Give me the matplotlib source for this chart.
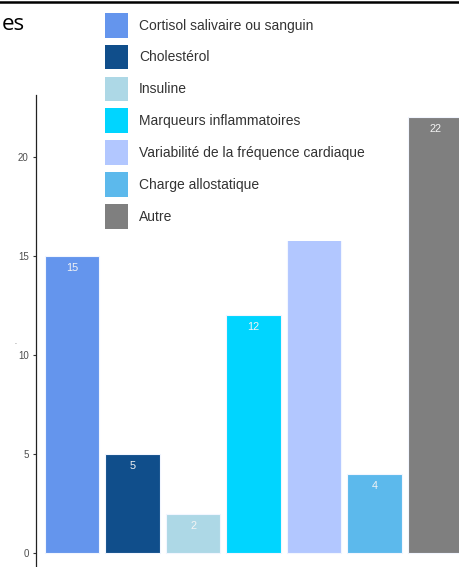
import matplotlib.pyplot as plt
from matplotlib.lines import Line2D
from matplotlib.patches import Patch

categories = ['Cortisol salivaire ou sanguin', 'Cholestérol', 'Insuline',
              'Marqueurs inflammatoires', 'Variabilité de la fréquence cardiaque',
              'Charge allostatique', 'Autre']
counts = [15, 5, 2, 12, 17, 4, 22]
colors = ['#6495ED', '#104E8B', '#ADD8E6', '#00D5FF', '#B2C7FF', '#5CB9EC', '#7F7F7F']
yticks = [0, 5, 10, 15, 20]


def main():
    plt.rcParams['font.family'] = ['Liberation Sans', 'DejaVu Sans']
    fig = plt.figure(figsize=(4.6, 5.67), dpi=100)
    ax = fig.add_axes([36 / 460, 0, 424 / 460, 472 / 567])

    x = list(range(len(categories)))
    bars = ax.bar(x, counts, width=0.9, color=colors, edgecolor='#F2F6FF', linewidth=0.8)
    for b, v in zip(bars, counts):
        ax.annotate(str(v), (b.get_x() + b.get_width() / 2, v), xytext=(0, -8.6),
                    textcoords='offset points', ha='center', va='center',
                    color='#F4F4F4', fontsize=7.8)

    ax.set_xlim(-0.595, 6.413)
    ax.set_ylim(-0.69, 23.1)
    ax.set_xticks([])
    ax.set_yticks(yticks)
    ax.tick_params(axis='y', length=2.2, width=0.8, color='#333333',
                   labelsize=7, labelcolor='#4D4D4D', pad=3)
    for s in ['top', 'right', 'bottom']:
        ax.spines[s].set_visible(False)
    ax.spines['left'].set_color('#222222')
    ax.spines['left'].set_linewidth(0.9)

    handles = [Patch(facecolor=c, edgecolor='none') for c in colors]
    fig.legend(handles, categories, loc='upper left',
               bbox_to_anchor=(93 / 460, 1 - 1 / 567), borderaxespad=0,
               fontsize=10, handlelength=1.65, handleheight=2.35,
               labelspacing=0.52, handletextpad=0.8, borderpad=0.86,
               frameon=True, framealpha=1, facecolor='white', edgecolor='none',
               fancybox=False, labelcolor='#333333')

    # remains of the cropped title and axis label
    fig.text(2 / 460, 1 - 30 / 567, 'es', fontsize=16, family='Open Sans',
             color='black', va='baseline', ha='left')
    fig.text(15 / 460, 1 - 343 / 567, '.', fontsize=5, color='#555555',
             ha='center', va='center')
    fig.add_artist(Line2D([0, 1], [1 - 1.5 / 567, 1 - 1.5 / 567], color='black',
                          linewidth=1.8, zorder=10))

    plt.savefig('out.png', dpi=100)


if __name__ == '__main__':
    main()
